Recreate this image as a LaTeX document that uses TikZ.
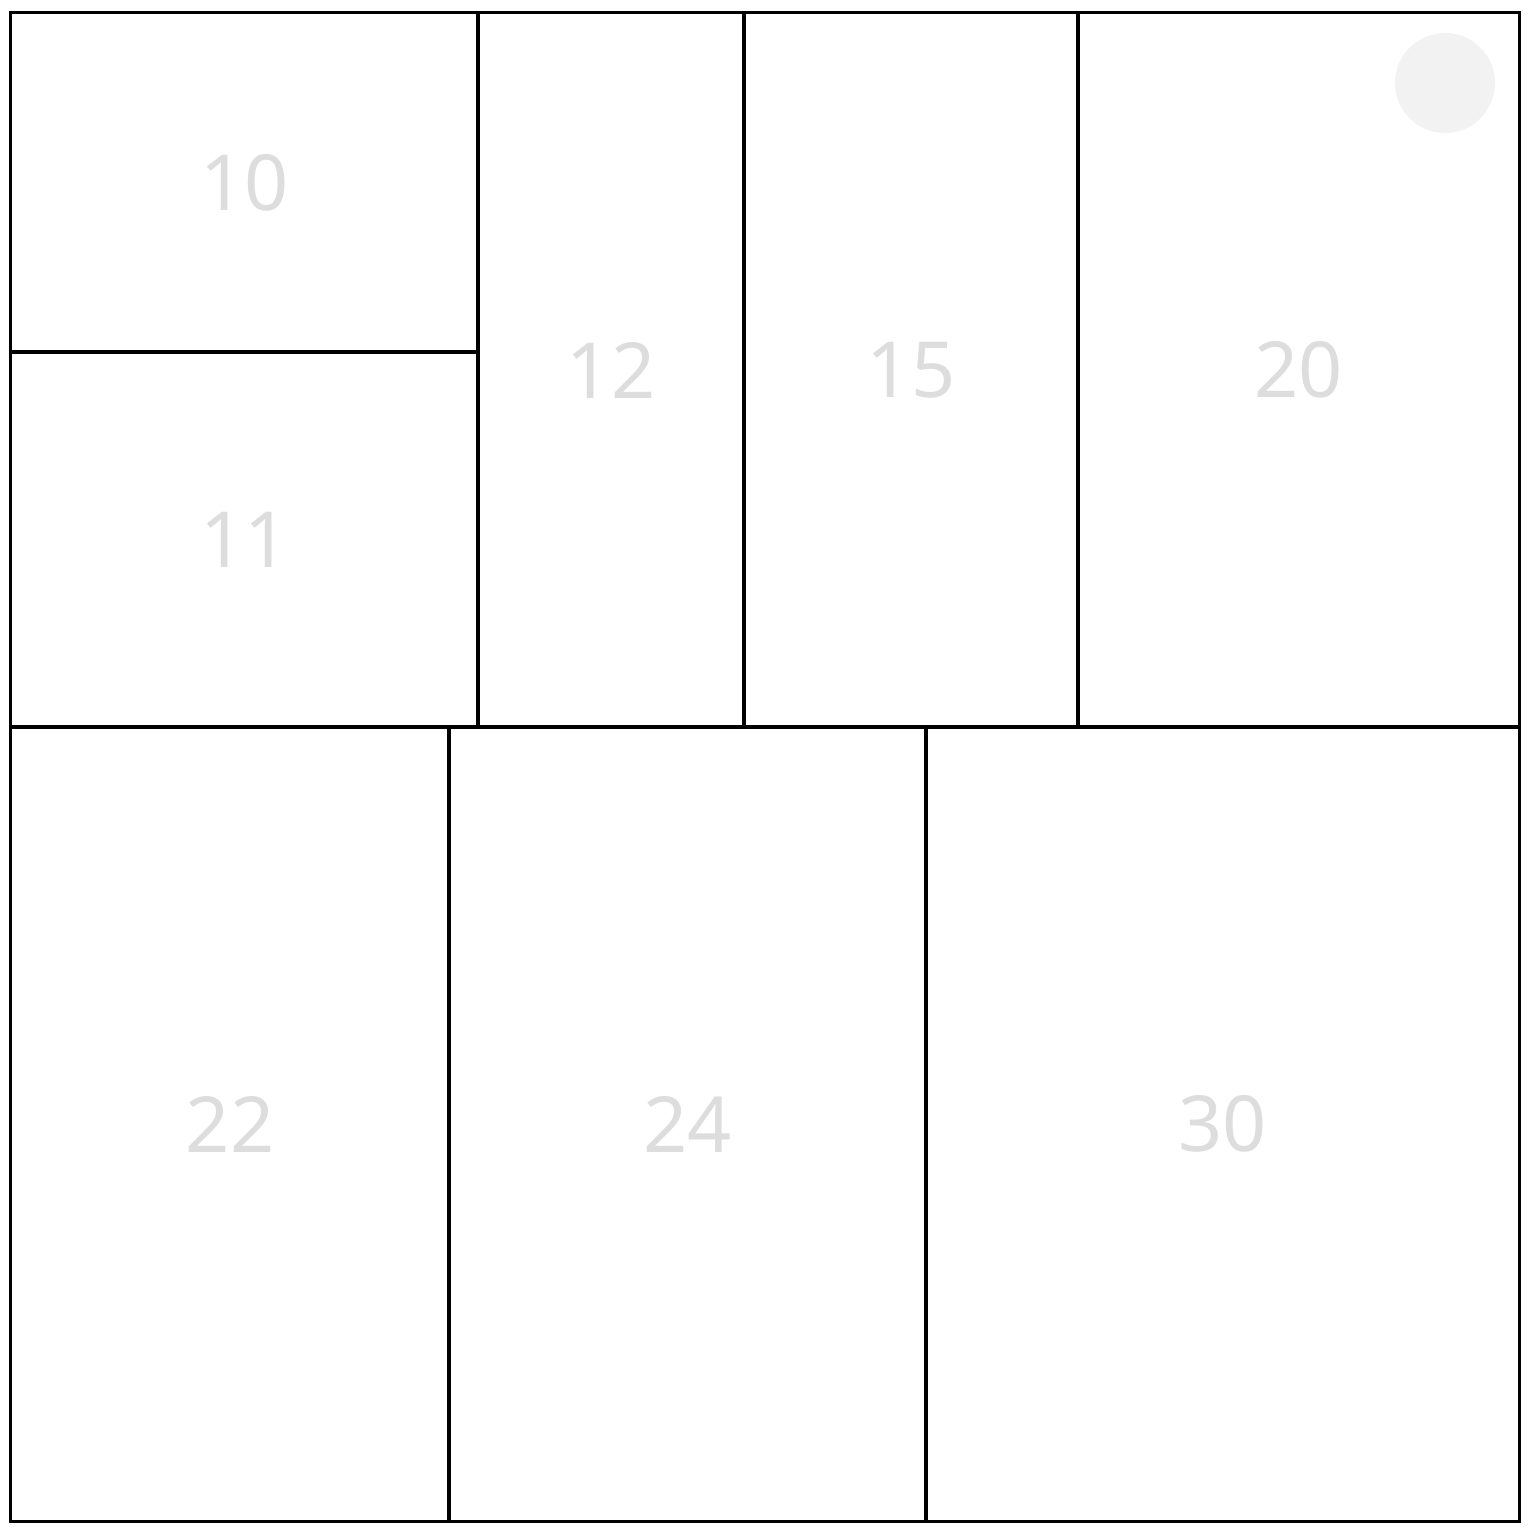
\documentclass[tikz,border=0pt]{standalone}
\usepackage{fontspec}
\setmainfont{Noto Sans}
\usepackage{xcolor}
\usepackage{tikz}
\definecolor{labelgray}{HTML}{DDDDDD}
\definecolor{dotgray}{HTML}{F2F2F2}

\begin{document}
\begin{tikzpicture}[
    x=0.01cm, y=-0.01cm,
    cell/.style={rectangle, draw, line width=0.85pt, inner sep=0pt, text=labelgray, font=\fontsize{22}{26}\selectfont},
    dot/.style={circle, fill=dotgray, minimum size=1cm, inner sep=0pt}
]
\useasboundingbox (0,0) rectangle (1536,1532);

\node[cell, minimum width=4.67cm, minimum height=3.39cm] (c10) at (244.5,182.5) {10};
\node[cell, minimum width=4.67cm, minimum height=3.75cm] (c11) at (244.5,539.5) {11};
\node[cell, minimum width=2.66cm, minimum height=7.14cm] (c12) at (611,370) {12};
\node[cell, minimum width=3.34cm, minimum height=7.14cm] (c15) at (911,370) {15};
\node[cell, minimum width=4.41cm, minimum height=7.14cm] (c20) at (1298.5,370) {20};
\node[cell, minimum width=4.38cm, minimum height=7.94cm] (c22) at (230,1124) {22};
\node[cell, minimum width=4.77cm, minimum height=7.94cm] (c24) at (687.5,1124) {24};
\node[cell, minimum width=5.93cm, minimum height=7.94cm] (c30) at (1222.5,1124) {30};

\node[dot] (mark) at (1445,83) {};

\end{tikzpicture}
\end{document}
